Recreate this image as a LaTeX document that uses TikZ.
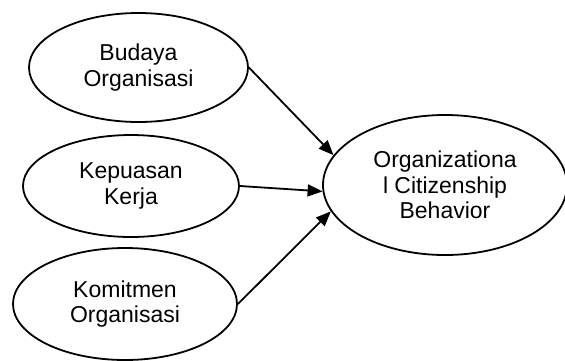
\documentclass[tikz,border=0pt]{standalone}
\usepackage{fontspec}
\setmainfont{Liberation Sans}
\usetikzlibrary{shapes.geometric,arrows.meta}

\begin{document}
\begin{tikzpicture}[x=1pt, y=-1pt, >={Triangle[length=15pt,width=12pt]},
	every variable/.style={ellipse, draw, line width=1.8pt, inner sep=0pt,
		align=center, font=\fontsize{23}{25.5}\selectfont},
	every path/.append style={line width=1.8pt}]

			\useasboundingbox (0,0) rectangle (565,360);

			% independent variables
			\foreach \m/\l/\x/\y/\w/\h in {budaya/{Budaya\\Organisasi}/138.5/67.5/219pt/109pt,
				kepuasan/{Kepuasan\\Kerja}/131/186/216pt/102pt,
				komitmen/{Komitmen\\Organisasi}/125/304/224pt/112pt}
				\node [every variable, minimum width=\w, minimum height=\h] (\m) at (\x,\y) {\l};

			% dependent variable
			\node [every variable, minimum width=244pt, minimum height=140pt] (ocb) at (445,185)
				{Organizationa\\l Citizenship\\Behavior};

			% lines from independent to dependent
			\foreach \m/\a in {budaya/165, kepuasan/183, komitmen/193.5}
				\draw [->] (\m.east) -- (ocb.\a);

\end{tikzpicture}
\end{document}
